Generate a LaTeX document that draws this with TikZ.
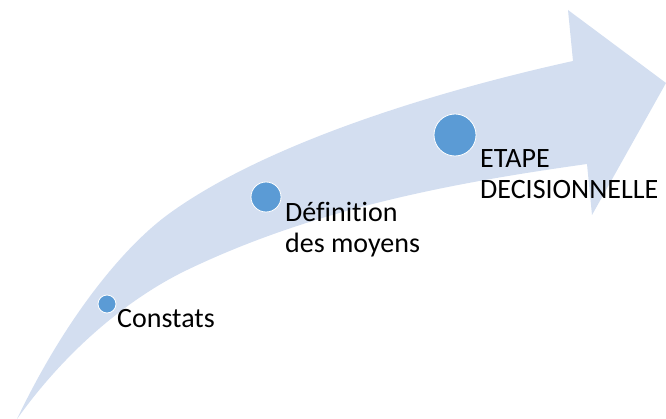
\documentclass[tikz,border=0pt]{standalone}
\usepackage{fontspec}
\setmainfont[Ligatures={NoCommon}]{Carlito}
\definecolor{bandblue}{HTML}{D3DEF0}
\definecolor{dotblue}{HTML}{5B9BD5}
\begin{document}
\begin{tikzpicture}[x=1pt,y=-1pt,
  dot/.style={circle, fill=dotblue, draw=white, line width=0.8pt, inner sep=0pt},
  steptext/.style={font=\fontsize{28}{31}\selectfont, text=black, inner sep=0pt, anchor=base west, align=left}]
\useasboundingbox (0,0) rectangle (666,419);
\fill[bandblue] (17,419) .. controls (62,324.5) and (120,249) .. (170,213)
  .. controls (270,141) and (443,89.6) .. (573,61)
  -- (568,10) -- (666,83) -- (592,215) -- (587,164)
  .. controls (457,182.2) and (317,207.6) .. (187,270)
  .. controls (137,294) and (72,342) .. (17,419) -- cycle;
\node[dot, minimum size=18pt] (d1) at (107,304) {};
\node[dot, minimum size=30pt] (d2) at (266,197) {};
\node[dot, minimum size=42pt] (d3) at (455,135) {};
\node[steptext] (t1) at (117,327) {Constats};
\node[steptext] (t2) at (285,253) {Définition\\des moyens};
\node[steptext] (t3) at (480,199) {ETAPE\\DECISIONNELLE};
\end{tikzpicture}
\end{document}
